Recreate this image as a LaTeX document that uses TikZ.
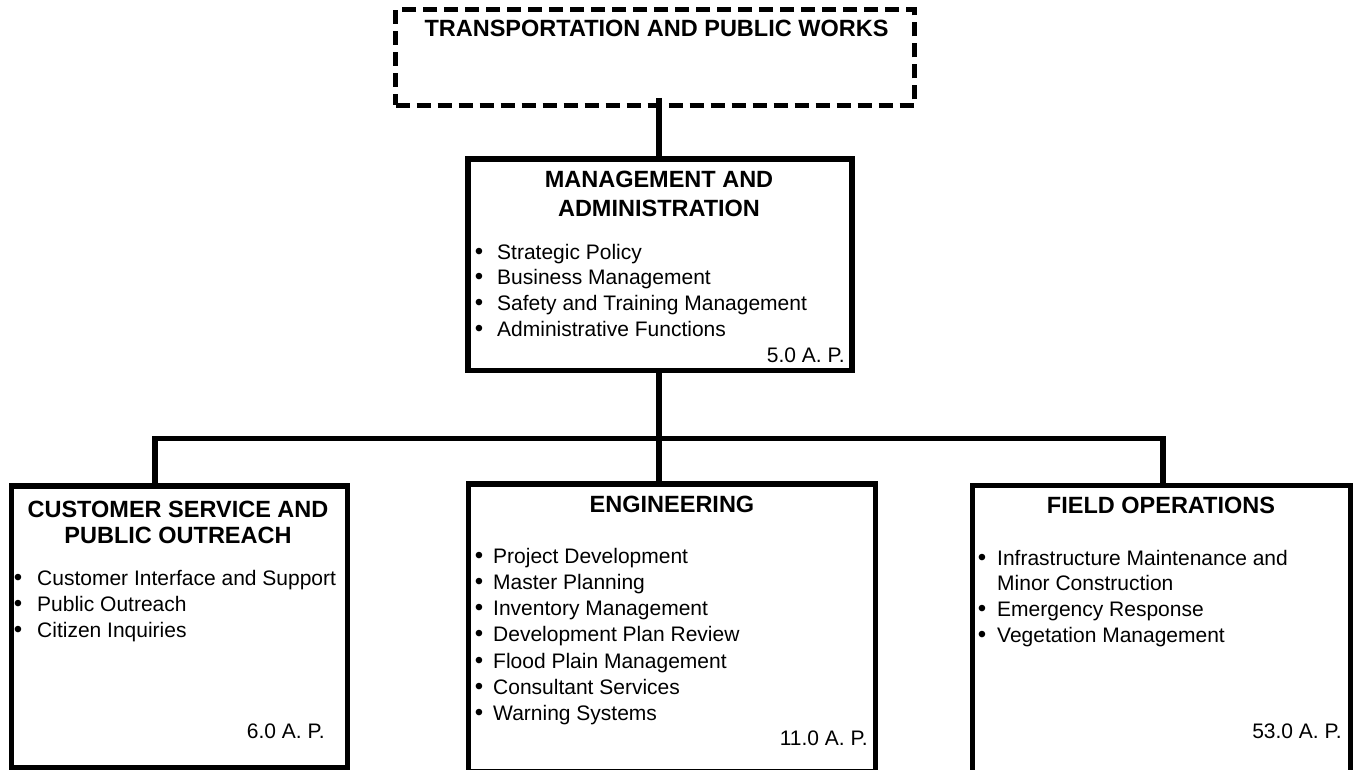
\documentclass[tikz,border=0pt]{standalone}
\usepackage{fontspec}
\setmainfont{Liberation Sans}
\begin{document}
\begin{tikzpicture}[x=1pt,y=-1pt]
\tikzset{
  unitbox/.style={draw=black, line width=5.5pt, rectangle, inner sep=0pt},
  dashbox/.style={unitbox, line width=5pt, dash pattern=on 14pt off 7pt},
  link/.style={draw=black, line width=5.5pt, line join=miter},
  headtxt/.style={inner sep=0pt, anchor=base, font=\fontsize{23.5}{27}\selectfont\bfseries},
  itemtxt/.style={inner sep=0pt, anchor=base west, font=\fontsize{21}{25}\selectfont},
  dot/.style={inner sep=0pt, anchor=base, font=\fontsize{24}{25}\selectfont},
  aptxt/.style={inner sep=0pt, anchor=base east, font=\fontsize{21}{25}\selectfont},
}
\useasboundingbox (0,0) rectangle (1362,770);
\fill[white] (0,0) rectangle (1362,770);

% boxes
\node[dashbox, minimum width=519pt, minimum height=95.5pt] (top) at (655,57.75) {};
\node[unitbox, minimum width=384pt, minimum height=211.5pt] (mgmt) at (660,264.75) {};
\node[unitbox, minimum width=336pt, minimum height=281.5pt] (cust) at (179.5,626.75) {};
\node[unitbox, minimum width=407pt, minimum height=287.5pt] (eng) at (672,627.75) {};
\node[unitbox, minimum width=378pt, minimum height=288.5pt] (field) at (1161.5,629.75) {};

% connectors
\coordinate (stem) at (659,438.5);
\coordinate (busL) at (155,438.5);
\coordinate (busR) at (1163,438.5);
\draw[link] (stem |- top.south) ++(0,-10) -- (stem |- mgmt.north);
\draw[link] (stem |- mgmt.south) -- (stem);
\draw[link] (busL |- cust.north) -- (busL) -- (busR) -- (busR |- field.north);
\draw[link] (stem) -- (stem |- eng.north);

% top unit
\node[headtxt] (topH) at (656.5,37) {TRANSPORTATION AND PUBLIC WORKS};

% management and administration
\node[headtxt] (mgmtH1) at (659,188) {MANAGEMENT AND};
\node[headtxt] (mgmtH2) at (659,216) {ADMINISTRATION};
\foreach \t [count=\i from 0] in {Strategic Policy, Business Management,
    Safety and Training Management, Administrative Functions} {
  \node[dot] (mgmtB\i) at (479,259+25.7*\i) {\textbullet};
  \node[itemtxt] (mgmtI\i) at (497,259+25.7*\i) {\t};
}
\node[aptxt] (mgmtAP) at (845,362) {5.0 A. P.};

% customer service
\node[headtxt] (custH1) at (178,517) {CUSTOMER SERVICE AND};
\node[headtxt] (custH2) at (178,543) {PUBLIC OUTREACH};
\foreach \t [count=\i from 0] in {Customer Interface and Support, Public Outreach,
    Citizen Inquiries} {
  \node[dot] (custB\i) at (18,585+26*\i) {\textbullet};
  \node[itemtxt] (custI\i) at (37,585+26*\i) {\t};
}
\node[aptxt] (custAP) at (325,738) {6.0 A. P.};

% engineering
\node[headtxt] (engH) at (672,512) {ENGINEERING};
\foreach \t [count=\i from 0] in {Project Development, Master Planning,
    Inventory Management, Development Plan Review, Flood Plain Management,
    Consultant Services, Warning Systems} {
  \node[dot] (engB\i) at (479,563+26.3*\i) {\textbullet};
  \node[itemtxt] (engI\i) at (493,563+26.3*\i) {\t};
}
\node[aptxt] (engAP) at (868,745) {11.0 A. P.};

% field operations
\node[headtxt] (fieldH) at (1161,513) {FIELD OPERATIONS};
\node[dot] (fieldB0) at (982,565) {\textbullet};
\node[itemtxt] (fieldI0) at (997,565) {Infrastructure Maintenance and};
\node[itemtxt] (fieldI0b) at (997,590.7) {Minor Construction};
\node[dot] (fieldB1) at (982,616.4) {\textbullet};
\node[itemtxt] (fieldI1) at (997,616.4) {Emergency Response};
\node[dot] (fieldB2) at (982,642) {\textbullet};
\node[itemtxt] (fieldI2) at (997,642) {Vegetation Management};
\node[aptxt] (fieldAP) at (1342,738) {53.0 A. P.};
\end{tikzpicture}
\end{document}
